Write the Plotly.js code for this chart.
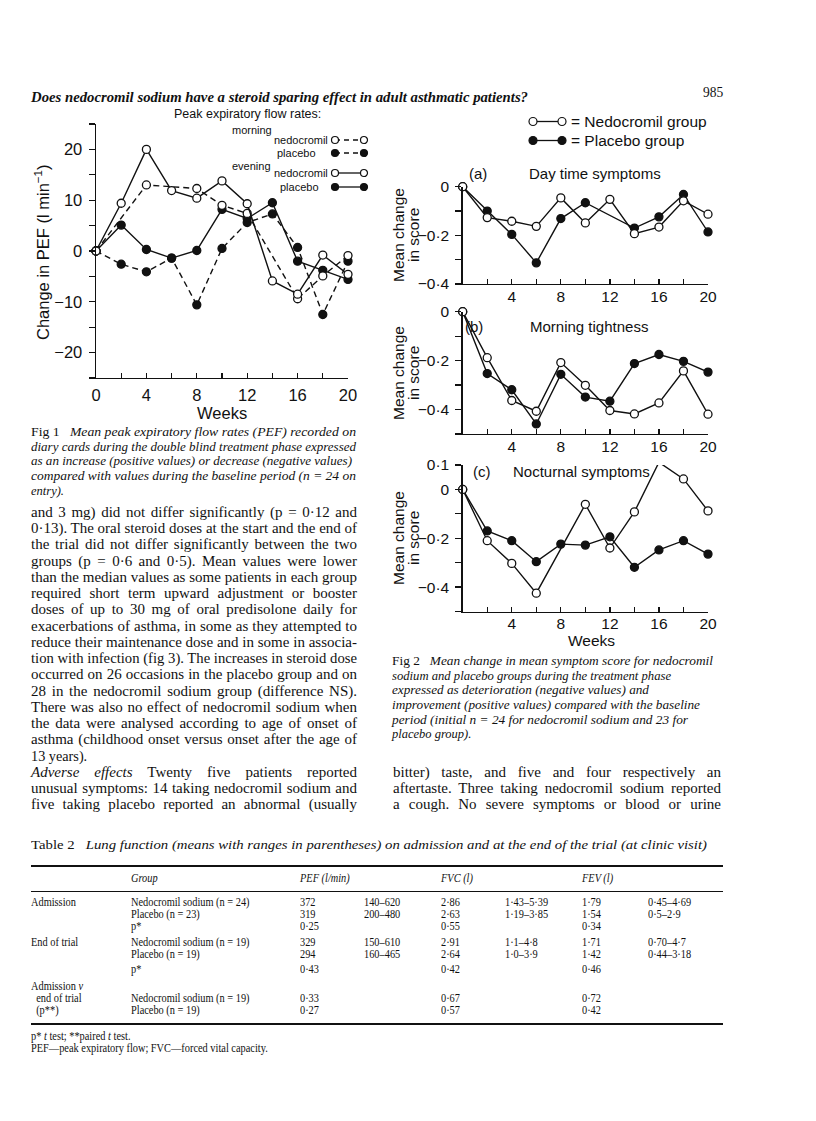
<!DOCTYPE html>
<html>
<head>
<meta charset="utf-8">
<script src="https://cdn.plot.ly/plotly-3.0.1.min.js"></script>
<style>
  body { margin: 0; background: #fff; }
  #page { position: relative; width: 816px; height: 1121px; overflow: hidden; background: #fff; }
  #plot { position: absolute; left: 0; top: 0; width: 816px; height: 1121px; }
  .ln { position: absolute; white-space: nowrap; font-family: 'Liberation Serif', 'Times New Roman', serif;
        color: #111; transform-origin: 0 50%; line-height: 1; }
  .rule { position: absolute; background: #111; }
</style>
</head>
<body>
<div id="page">
  <div id="plot"></div>
</div>
<script>
// ---- Fig 1: change in PEF (l/min) by week ----
const weeks = [0, 2, 4, 6, 8, 10, 12, 14, 16, 18, 20];
const morningNedWeeks = [0, 4, 8, 10, 12, 16, 18, 20];
const morningNed = [0, 13.0, 12.3, 9.0, 7.4, -9.4, -4.9, -0.9];
const morningPla = [0, -2.6, -4.1, -1.4, -10.6, 0.5, 5.6, 7.3, 0.7, -12.5, -2.0];
const eveningNed = [0, 9.4, 20, 11.9, 10.4, 13.8, 9.3, -5.9, -8.5, -0.8, -4.6];
const eveningPla = [0, 5.1, 0.3, -1.4, 0.1, 8.2, 6.4, 9.5, -2.0, -3.8, -5.6];

const fig1YTicks = [-25, -20, -15, -10, -5, 0, 5, 10, 15, 20, 25];
const fig1YLabels = ['', '−20', '', '−10', '', '0', '', '10', '', '20', ''];
const fig1XLabels = ['0', '', '4', '', '8', '', '12', '', '16', '', '20'];

// ---- Fig 2: mean change in symptom score ----
const dayNed = [0, -0.127, -0.142, -0.163, -0.046, -0.149, -0.052, -0.193, -0.166, -0.058, -0.113];
const dayPlaWeeks = [0, 2, 4, 6, 8, 10, 14, 16, 18, 20];
const dayPla = [0, -0.10, -0.196, -0.313, -0.131, -0.066, -0.17, -0.124, -0.032, -0.186];
const mornNed = [0, -0.188, -0.363, -0.407, -0.208, -0.301, -0.404, -0.418, -0.373, -0.242, -0.419];
const mornPla = [0, -0.253, -0.319, -0.459, -0.256, -0.349, -0.366, -0.212, -0.175, -0.203, -0.247];
const nightNedWeeks = [0, 2, 4, 6, 10, 12, 14, 16, 18, 20];
const nightNed = [0, -0.21, -0.303, -0.425, -0.061, -0.24, -0.092, 0.111, 0.043, -0.088];
const nightPla = [0, -0.17, -0.21, -0.296, -0.224, -0.228, -0.194, -0.319, -0.248, -0.21, -0.265];

const fig2XTicks = [2, 4, 6, 8, 10, 12, 14, 16, 18, 20];
const fig2XLabels = ['', '4', '', '8', '', '12', '', '16', '', '20'];

// ---- Table 2 text ----
const tableHead = ['Group', 'PEF (l/min)', 'FVC (l)', 'FEV (l)'];
const tableRows = [
  ['Admission', 'Nedocromil sodium (n = 24)', '372', '140–620', '2·86', '1·43–5·39', '1·79', '0·45–4·69'],
  ['', 'Placebo (n = 23)', '319', '200–480', '2·63', '1·19–3·85', '1·54', '0·5–2·9'],
  ['', 'p*', '0·25', '', '0·55', '', '0·34', ''],
  ['End of trial', 'Nedocromil sodium (n = 19)', '329', '150–610', '2·91', '1·1–4·8', '1·71', '0·70–4·7'],
  ['', 'Placebo (n = 19)', '294', '160–465', '2·64', '1·0–3·9', '1·42', '0·44–3·18'],
  ['', 'p*', '0·43', '', '0·42', '', '0·46', ''],
  ['Admission <i>v</i>', '', '', '', '', '', '', ''],
  ['&nbsp;&nbsp;end of trial', 'Nedocromil sodium (n = 19)', '0·33', '', '0·67', '', '0·72', ''],
  ['&nbsp;&nbsp;(p**)', 'Placebo (n = 19)', '0·27', '', '0·57', '', '0·42', '']
];

// ---------------------------------------------------------------
const W = 816, H = 1121;
const INK = '#111';
const px = function(x) { return x / W; };
const py = function(y) { return 1 - y / H; };

function series(xa, ya, xax, yax, filled, dash) {
  return {
    x: xa, y: ya, xaxis: xax, yaxis: yax,
    type: 'scatter', mode: 'lines+markers', cliponaxis: false, showlegend: false,
    line: { color: INK, width: 1.4, dash: dash || 'solid' },
    marker: { symbol: 'circle', size: 8, color: filled ? INK : '#fff', line: { color: INK, width: 1.3 } }
  };
}

const data = [
  series(weeks, morningPla, 'x', 'y', true, '6px,4px'),
  series(weeks, eveningPla, 'x', 'y', true),
  series(morningNedWeeks, morningNed, 'x', 'y', false, '6px,4px'),
  series(weeks, eveningNed, 'x', 'y', false),
  series(dayPlaWeeks, dayPla, 'x2', 'y2', true),
  series(weeks, dayNed, 'x2', 'y2', false),
  series(weeks, mornPla, 'x3', 'y3', true),
  series(weeks, mornNed, 'x3', 'y3', false),
  series(weeks, nightPla, 'x4', 'y4', true),
  series(nightNedWeeks, nightNed, 'x4', 'y4', false)
];

function xAxis(x0, x1, anchor, vals, labels, size, standoff) {
  return {
    domain: [px(x0), px(x1)], anchor: anchor, range: [0, 20],
    showline: true, linecolor: INK, linewidth: 1.4, mirror: false,
    ticks: 'inside', ticklen: 5, tickwidth: 1.3, tickcolor: INK,
    tickvals: vals, ticktext: labels, tickangle: 0, ticklabelstandoff: standoff,
    tickfont: { family: 'Liberation Sans, Arial, sans-serif', size: size, color: INK },
    showgrid: false, zeroline: false, fixedrange: true
  };
}
function yAxis(yTop, yBot, anchor, range, vals, labels, size) {
  return {
    domain: [py(yBot), py(yTop)], anchor: anchor, range: range,
    showline: true, linecolor: INK, linewidth: 1.4,
    ticks: 'outside', ticklen: 6, tickwidth: 1.3, tickcolor: INK,
    tickvals: vals, ticktext: labels, ticklabelstandoff: 3,
    tickfont: { family: 'Liberation Sans, Arial, sans-serif', size: size, color: INK },
    showgrid: false, zeroline: false, fixedrange: true
  };
}

function note(text, x, y, size, anchor, angle) {
  return {
    text: text, xref: 'paper', yref: 'paper', x: px(x), y: py(y),
    xanchor: anchor || 'left', yanchor: 'middle', showarrow: false, textangle: angle || 0,
    font: { family: 'Liberation Sans, Arial, sans-serif', size: size, color: INK }
  };
}
function legLine(x0, x1, y, dash) {
  return { type: 'line', xref: 'paper', yref: 'paper', x0: px(x0), x1: px(x1), y0: py(y), y1: py(y),
           line: { color: INK, width: 1.3, dash: dash || 'solid' } };
}
function legDot(x, y, r, filled) {
  return { type: 'circle', xref: 'paper', yref: 'paper', x0: px(x - r), x1: px(x + r), y0: py(y + r), y1: py(y - r),
           fillcolor: filled ? INK : '#fff', line: { color: INK, width: 1.2 } };
}

const F2X0 = 462.7, F2X1 = 708;
const layout = {
  width: W, height: H, margin: { l: 0, r: 0, t: 0, b: 0 },
  paper_bgcolor: 'rgba(0,0,0,0)', plot_bgcolor: 'rgba(0,0,0,0)',
  showlegend: false,
  xaxis: xAxis(96, 348, 'y', weeks, fig1XLabels, 16.5, 2),
  yaxis: yAxis(124, 378, 'x', [-25, 25], fig1YTicks, fig1YLabels, 16.5),
  xaxis2: xAxis(F2X0, F2X1, 'y2', fig2XTicks, fig2XLabels, 15.5, -2),
  yaxis2: yAxis(186.7, 284, 'x2', [-0.4, 0], [0, -0.1, -0.2, -0.3, -0.4], ['0', '', '−0·2', '', '−0·4'], 15.5),
  xaxis3: xAxis(F2X0, F2X1, 'y3', fig2XTicks, fig2XLabels, 15.5, -2),
  yaxis3: yAxis(311.7, 434, 'x3', [-0.5, 0], [0, -0.1, -0.2, -0.3, -0.4, -0.5], ['0', '', '−0·2', '', '−0·4', ''], 15.5),
  xaxis4: xAxis(F2X0, F2X1, 'y4', fig2XTicks, fig2XLabels, 15.5, -3),
  yaxis4: yAxis(465, 611.5, 'x4', [-0.5, 0.1], [0.1, 0, -0.1, -0.2, -0.3, -0.4, -0.5], ['0·1', '0', '', '−0·2', '', '−0·4', ''], 15.5),
  annotations: [
    // Fig 1
    note('Change in PEF (l min<sup>−1</sup>)', 42, 252, 16.5, 'center', -90),
    note('Weeks', 222, 413, 16.5, 'center'),
    note('Peak expiratory flow rates:', 247.5, 114, 12.5, 'center'),
    note('morning', 230, 130, 11),
    note('nedocromil', 272, 140, 11),
    note('placebo', 275, 153, 11),
    note('evening', 230, 166, 11),
    note('nedocromil', 272, 173, 11),
    note('placebo', 278, 187, 11),
    // Fig 2
    note('= Nedocromil group', 569, 121.5, 15.5),
    note('= Placebo group', 569, 140.5, 15.5),
    note('(a)', 467, 173, 15),
    note('Day time symptoms', 527, 173, 15),
    note('(b)', 463, 326, 15),
    note('Morning tightness', 528, 326, 15),
    note('(c)', 471, 471, 15),
    note('Nocturnal symptoms', 511, 471, 15),
    note('Mean change', 398, 235, 15.5, 'center', -90),
    note('in score', 413, 235, 15.5, 'center', -90),
    note('Mean change', 398, 373, 15.5, 'center', -90),
    note('in score', 413, 373, 15.5, 'center', -90),
    note('Mean change', 398, 538, 15.5, 'center', -90),
    note('in score', 413, 538, 15.5, 'center', -90),
    note('Weeks', 591, 640, 15.5, 'center')
  ],
  shapes: [
    legLine(335, 364, 140, '5px,4px'), legDot(335, 140, 3.5, false), legDot(364, 140, 3.5, false),
    legLine(335, 364, 153, '5px,4px'), legDot(335, 153, 3.5, true), legDot(364, 153, 3.5, true),
    legLine(335, 364, 173), legDot(335, 173, 3.5, false), legDot(364, 173, 3.5, false),
    legLine(335, 364, 187), legDot(335, 187, 3.5, true), legDot(364, 187, 3.5, true),
    legLine(533, 562, 121.5), legDot(533, 121.5, 4, false), legDot(562, 121.5, 4, false),
    legLine(533, 562, 140.5), legDot(533, 140.5, 4, true), legDot(562, 140.5, 4, true)
  ]
};

Plotly.newPlot('plot', data, layout, { staticPlot: true, displayModeBar: false });

// ---------------- page text ----------------
const page = document.getElementById('page');

function place(html, x, y, size, opt) {
  opt = opt || {};
  const d = document.createElement('div');
  d.className = 'ln';
  d.innerHTML = html;
  d.style.left = x + 'px';
  d.style.top = (y - size * 0.55) + 'px';
  d.style.fontSize = size + 'px';
  if (opt.italic) d.style.fontStyle = 'italic';
  if (opt.bold) d.style.fontWeight = 'bold';
  page.appendChild(d);
  const w0 = d.getBoundingClientRect().width;
  if (opt.w) {
    if (opt.justify && w0 < opt.w) {
      const n = (d.textContent.match(/ /g) || []).length;
      if (n) d.style.wordSpacing = ((opt.w - w0) / n) + 'px';
    } else {
      d.style.transform = 'scaleX(' + (opt.w / w0) + ')';
    }
  } else if (opt.sx) {
    d.style.transform = 'scaleX(' + opt.sx + ')';
  }
  return d;
}
function rule(x0, x1, y, h) {
  const r = document.createElement('div');
  r.className = 'rule';
  r.style.left = x0 + 'px'; r.style.width = (x1 - x0) + 'px';
  r.style.top = (y - h / 2) + 'px'; r.style.height = h + 'px';
  page.appendChild(r);
}

// running head
place('Does nedocromil sodium have a steroid sparing effect in adult asthmatic patients?', 31, 98, 14.5,
      { italic: true, bold: true, w: 497 });
place('985', 703, 93, 15, { sx: 0.9 });

// Fig 1 caption
const cap1 = [
  ['<span style="font-style:normal">Fig 1</span>&nbsp;&nbsp;&nbsp;Mean peak expiratory flow rates (PEF) recorded on', 325],
  ['diary cards during the double blind treatment phase expressed', 325],
  ['as an increase (positive values) or decrease (negative values)', 321],
  ['compared with values during the baseline period (n = 24 on', 325],
  ['entry).', 0]
];
cap1.forEach(function(c, i) {
  place(c[0], 31, 433 + i * 14.6, 12.5, { italic: true, w: c[1] || null });
});

// Fig 2 caption
const cap2 = [
  ['<span style="font-style:normal">Fig 2</span>&nbsp;&nbsp;&nbsp;Mean change in mean symptom score for nedocromil', 321],
  ['sodium and placebo groups during the treatment phase', 279],
  ['expressed as deterioration (negative values) and', 257],
  ['improvement (positive values) compared with the baseline', 308],
  ['period (initial n = 24 for nedocromil sodium and 23 for', 296],
  ['placebo group).', 0]
];
cap2.forEach(function(c, i) {
  place(c[0], 392, 662 + i * 14.6, 12.5, { italic: true, w: c[1] || null });
});

// body text, column 1
const body1 = [
  'and 3 mg) did not differ significantly (p = 0·12 and',
  '0·13). The oral steroid doses at the start and the end of',
  'the trial did not differ significantly between the two',
  'groups (p = 0·6 and 0·5). Mean values were lower',
  'than the median values as some patients in each group',
  'required short term upward adjustment or booster',
  'doses of up to 30 mg of oral predisolone daily for',
  'exacerbations of asthma, in some as they attempted to',
  'reduce their maintenance dose and in some in associa-',
  'tion with infection (fig 3). The increases in steroid dose',
  'occurred on 26 occasions in the placebo group and on',
  '28 in the nedocromil sodium group (difference NS).',
  'There was also no effect of nedocromil sodium when',
  'the data were analysed according to age of onset of',
  'asthma (childhood onset versus onset after the age of',
  '13 years).',
  '<i>Adverse effects</i> Twenty five patients reported',
  'unusual symptoms: 14 taking nedocromil sodium and',
  'five taking placebo reported an abnormal (usually'
];
body1.forEach(function(t, i) {
  const last = (i === 15);
  place(t, 31, 513 + i * 16.25, 15, last ? { sx: 0.95 } : { w: 326, justify: true });
});

// body text, column 2
const body2 = [
  'bitter) taste, and five and four respectively an',
  'aftertaste. Three taking nedocromil sodium reported',
  'a cough. No severe symptoms or blood or urine'
];
body2.forEach(function(t, i) {
  place(t, 393, 773 + i * 16.25, 15, { w: 328, justify: true });
});

// Table 2
place('Table 2&nbsp;&nbsp;&nbsp;<i>Lung function (means with ranges in parentheses) on admission and at the end of the trial (at clinic visit)</i>',
      31, 845, 13, { w: 676 });
rule(31, 723, 866, 2);
rule(31, 723, 891, 1);
rule(31, 723, 1024, 2);

const CELL = 11.5, CELLSX = 0.9;
const colX = [31, 131, 300, 364, 441, 505, 582, 648];
const headX = [131, 300, 441, 582];
tableHead.forEach(function(h, i) {
  place('<i>' + h + '</i>', headX[i], 879, CELL, { sx: CELLSX });
});
const rowY = [903, 915, 927, 943, 955, 970, 987, 999, 1011];
tableRows.forEach(function(row, r) {
  row.forEach(function(cell, c) {
    if (cell) place(cell, colX[c], rowY[r], CELL, { sx: CELLSX });
  });
});
place('p* <i>t</i> test; **paired <i>t</i> test.', 31, 1037, CELL, { sx: CELLSX });
place('PEF—peak expiratory flow; FVC—forced vital capacity.', 31, 1049, CELL, { sx: CELLSX });
</script>
</body>
</html>
